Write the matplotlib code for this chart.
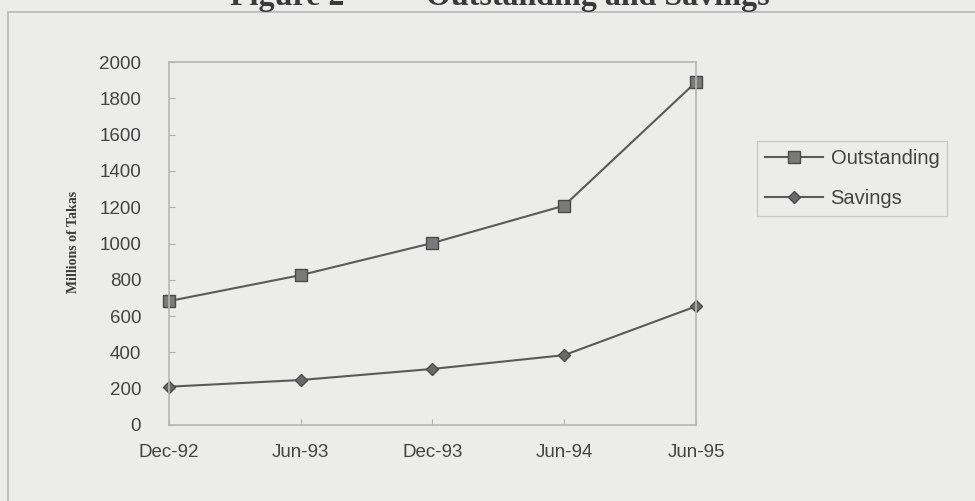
import matplotlib.pyplot as plt
from matplotlib.patches import Rectangle

# Data
periods = ['Dec-92', 'Jun-93', 'Dec-93', 'Jun-94', 'Jun-95']
outstanding = [683, 826, 1003, 1209, 1890]
savings = [211, 248, 309, 385, 654]

bg = '#ececea'
line_col = '#5a5a5a'

fig = plt.figure(figsize=(9.75, 5.01), dpi=100, facecolor=bg)
ax = fig.add_axes([0.1733, 0.1517, 0.5405, 0.7243])
ax.set_facecolor(bg)

x = list(range(len(periods)))
ax.plot(x, outstanding, color=line_col, lw=1.5, marker='s', ms=8,
        mfc='#7a7a7a', mec='#4a4a4a', mew=1, label='Outstanding', clip_on=False)
ax.plot(x, savings, color=line_col, lw=1.5, marker='D', ms=6,
        mfc='#6a6a6a', mec='#4a4a4a', mew=1, label='Savings', clip_on=False)

ax.set_xlim(0, len(periods) - 1)
ax.set_ylim(0, 2000)
ax.set_xticks(x)
ax.set_xticklabels(periods)
ax.set_yticks(range(0, 2001, 200))
ax.tick_params(direction='in', length=4, color='#b0b0b0', labelsize=13.5,
               labelcolor='#444444')
ax.tick_params(axis='y', pad=20)
ax.tick_params(axis='x', pad=14)
for s in ax.spines.values():
    s.set_color('#b5b5b5')
    s.set_linewidth(1.2)
for lab in ax.get_xticklabels() + ax.get_yticklabels():
    lab.set_family('Liberation Sans')

ax.set_ylabel('Millions of Takas', family='Liberation Serif', fontweight='bold',
              fontsize=10, color='#3a3a3a')
ax.yaxis.set_label_coords(-0.168, 0.504)

leg = ax.legend(loc='upper left', bbox_to_anchor=(757 / 975, 1 - 141 / 501),
                bbox_transform=fig.transFigure, borderaxespad=0, frameon=True,
                fancybox=False, facecolor=bg, edgecolor='#c0c0c0',
                prop={'family': 'Liberation Sans', 'size': 14.5},
                handlelength=2.9, handletextpad=0.35, borderpad=0.4,
                labelspacing=1.05)
leg.get_frame().set_linewidth(1.0)
for t in leg.get_texts():
    t.set_color('#444444')

# outer frame of the scanned figure
fig.patches.append(Rectangle((8 / 975, -0.05), 1.1, 1 - 12 / 501 + 0.05,
                             transform=fig.transFigure, fill=False,
                             edgecolor='#b8b8b8', lw=1.2))

# title, cut off at the top of the scan
fig.text(287 / 975, 1 - 5 / 501, 'Figure 2', family='Liberation Serif',
         fontweight='bold', fontsize=23, color='#3a3a3a', ha='center', va='baseline')
fig.text(598 / 975, 1 - 5 / 501, 'Outstanding and Savings', family='Liberation Serif',
         fontweight='bold', fontsize=23, color='#3a3a3a', ha='center', va='baseline')

fig.savefig('out.png', dpi=100, facecolor=bg)
